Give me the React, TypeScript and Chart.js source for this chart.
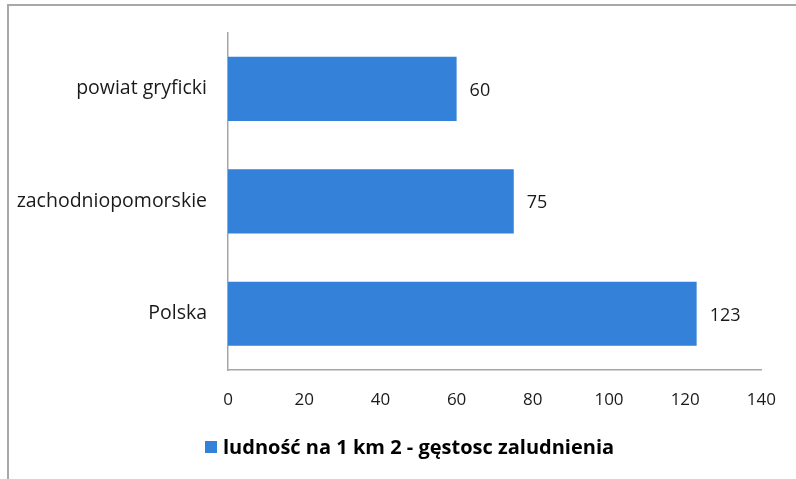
import React, { useEffect, useRef } from "react";
import { Chart, registerables } from "chart.js";

Chart.register(...registerables);

const categories = ["powiat gryficki", "zachodniopomorskie", "Polska"];
const seriesLabel = "ludność na 1 km 2 - gęstosc zaludnienia";
const seriesValues = [60, 75, 123];
const xMin = 0;
const xMax = 140;
const xStep = 20;

const FONT = "'Open Sans', sans-serif";
const BAR_COLOR = "#3381d8";
const AXIS_COLOR = "#a6a6a6";
const TEXT_COLOR = "#1a1a1a";

const valueLabels = {
  id: "valueLabels",
  afterDatasetsDraw(chart: any) {
    const ctx = chart.ctx;
    ctx.save();
    ctx.font = `18px ${FONT}`;
    ctx.fillStyle = TEXT_COLOR;
    ctx.textAlign = "left";
    ctx.textBaseline = "middle";
    chart.data.datasets.forEach((ds: any, di: number) => {
      const meta = chart.getDatasetMeta(di);
      meta.data.forEach((bar: any, i: number) => {
        ctx.fillText(String(ds.data[i]), bar.x + 13, bar.y + 2);
      });
    });
    ctx.restore();
  },
};

const bottomLegend = {
  id: "bottomLegend",
  afterDraw(chart: any) {
    const ctx = chart.ctx;
    const ds = chart.data.datasets[0];
    const boxSize = 12;
    const centerY = 447;
    const startX = 205;
    ctx.save();
    ctx.fillStyle = ds.backgroundColor;
    ctx.fillRect(startX, centerY - boxSize / 2, boxSize, boxSize);
    ctx.font = `bold 20px ${FONT}`;
    ctx.fillStyle = "#000";
    ctx.textAlign = "left";
    ctx.textBaseline = "middle";
    ctx.fillText(ds.label, startX + boxSize + 6, centerY + 1);
    ctx.restore();
  },
};

export default function App() {
  const ref = useRef<HTMLCanvasElement | null>(null);
  useEffect(() => {
    if (!ref.current) return;
    const chart = new Chart(ref.current, {
      type: "bar",
      data: {
        labels: categories,
        datasets: [
          {
            label: seriesLabel,
            data: seriesValues,
            backgroundColor: BAR_COLOR,
            borderWidth: 0,
            categoryPercentage: 1,
            barPercentage: 0.57,
          },
        ],
      },
      options: {
        indexAxis: "y",
        responsive: false,
        animation: false,
        layout: { padding: { left: 0, right: 31, top: 28, bottom: 64 } },
        plugins: {
          tooltip: { enabled: false },
          legend: { display: false },
        },
        scales: {
          x: {
            min: xMin,
            max: xMax,
            ticks: {
              stepSize: xStep,
              color: TEXT_COLOR,
              font: { family: FONT, size: 17 },
              padding: 20,
              maxRotation: 0,
            },
            grid: { display: false, drawTicks: false },
            border: { display: true, color: AXIS_COLOR, width: 1.5 },
            afterFit(scale: any) {
              scale.height = 45;
            },
          },
          y: {
            ticks: {
              color: TEXT_COLOR,
              font: { family: FONT, size: 19.5 },
              padding: 21,
            },
            grid: { display: false, drawTicks: false },
            border: { display: true, color: AXIS_COLOR, width: 1.5 },
            afterFit(scale: any) {
              scale.width = 228;
            },
          },
        },
      },
      plugins: [valueLabels, bottomLegend],
    });
    return () => chart.destroy();
  }, []);

  return (
    <div style={{ position: "absolute", left: 0, top: 0, width: 796, height: 479, background: "#fff" }}>
      <div
        style={{
          position: "absolute",
          left: 7,
          top: 4,
          right: 0,
          bottom: 0,
          borderTop: "2px solid #a8a8a8",
          borderLeft: "2px solid #a8a8a8",
        }}
      />
      <canvas ref={ref} width={796} height={479} style={{ position: "absolute", left: 0, top: 0 }} />
    </div>
  );
}
